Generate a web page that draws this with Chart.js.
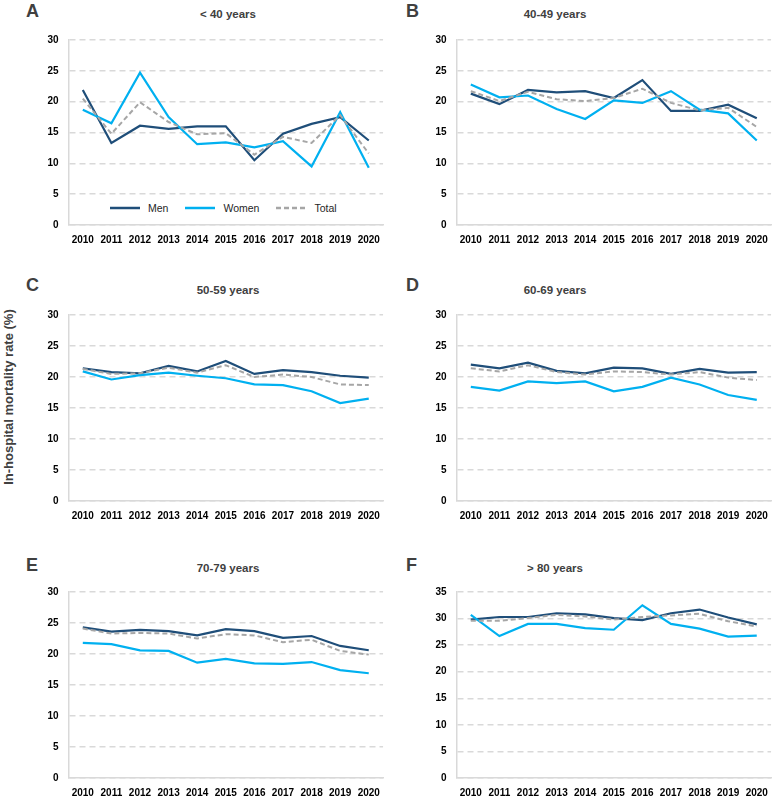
<!DOCTYPE html>
<html>
<head>
<meta charset="utf-8">
<script src="https://cdn.jsdelivr.net/npm/chart.js@4.4.1/dist/chart.umd.min.js"></script>
<style>
html,body{margin:0;padding:0;background:#fff;}
body{width:778px;height:797px;position:relative;overflow:hidden;font-family:"Liberation Sans",Arial,sans-serif;}
canvas{position:absolute;}
.letter{position:absolute;font-weight:bold;font-size:18px;color:#404040;line-height:18px;}
.ptitle{position:absolute;font-weight:bold;font-size:11.5px;color:#404040;transform:translate(-50%,-50%);white-space:nowrap;}
#ytitle{position:absolute;left:8px;top:397px;transform:translate(-50%,-50%) rotate(-90deg);font-weight:bold;font-size:13px;color:#404040;white-space:nowrap;}
#legend{position:absolute;left:110px;top:202px;display:flex;align-items:center;font-size:10.5px;color:#262626;}
#legend .item{display:flex;align-items:center;margin-right:17px;}
#legend svg{margin-right:8px;}
</style>
</head>
<body>
<div id="ytitle">In-hospital mortality rate (%)</div>
<div id="legend"></div>
<script>
// ---- Data ----
const years = ['2010','2011','2012','2013','2014','2015','2016','2017','2018','2019','2020'];
const seriesNames = ['Men','Women','Total'];
const panelLetters = ['A','B','C','D','E','F'];
const panelTitles = ['< 40 years','40-49 years','50-59 years','60-69 years','70-79 years','> 80 years'];
const yMaxes = [30,30,30,30,30,35];
const yStep = 5;

const menA   = [21.9,13.3,16.1,15.6,16.0,16.0,10.5,14.8,16.4,17.5,13.7];
const womenA = [18.7,16.5,24.7,17.5,13.1,13.4,12.6,13.6,9.5,18.3,9.3];
const totalA = [20.5,14.8,19.9,16.7,14.7,14.9,11.4,14.3,13.3,17.8,11.6];

const menB   = [21.3,19.6,21.9,21.5,21.7,20.6,23.5,18.5,18.5,19.5,17.3];
const womenB = [22.8,20.7,21.0,18.8,17.2,20.2,19.8,21.7,18.7,18.1,13.7];
const totalB = [21.7,20.1,21.6,20.4,20.1,20.6,22.1,19.8,18.6,19.0,15.9];

const menC   = [21.4,20.8,20.6,21.8,20.9,22.6,20.5,21.1,20.8,20.2,19.9];
const womenC = [20.9,19.6,20.3,20.7,20.2,19.8,18.8,18.7,17.7,15.8,16.5];
const totalC = [21.3,20.5,20.6,21.5,20.7,21.9,20.0,20.4,20.0,18.8,18.7];

const menD   = [22.0,21.4,22.3,21.0,20.6,21.5,21.4,20.5,21.3,20.7,20.8];
const womenD = [18.4,17.8,19.3,19.0,19.3,17.7,18.4,19.9,18.8,17.1,16.3];
const totalD = [21.4,20.9,21.9,20.8,20.4,20.9,20.8,20.4,20.8,19.9,19.5];

const menE   = [24.3,23.6,23.9,23.7,23.0,24.0,23.7,22.6,22.9,21.3,20.6];
const womenE = [21.8,21.6,20.6,20.5,18.6,19.2,18.5,18.4,18.7,17.4,16.9];
const totalE = [24.1,23.3,23.4,23.3,22.5,23.2,23.0,21.9,22.3,20.5,19.9];

const menF   = [29.8,30.3,30.3,31.0,30.8,30.1,29.7,31.0,31.7,30.2,28.9];
const womenF = [30.7,26.7,29.0,29.0,28.2,27.9,32.5,29.0,28.1,26.6,26.8];
const totalF = [29.6,29.6,30.1,30.7,30.4,29.8,30.3,30.6,30.9,29.5,28.5];

// ---- Styles / layout ----
const COLORS = ['#1f4e79','#00b0f0','#a6a6a6'];
const DASHES = [[],[],[5,3]];
const FONT = "'Liberation Sans', Arial, sans-serif";
const panelData = [[menA,womenA,totalA],[menB,womenB,totalB],[menC,womenC,totalC],[menD,womenD,totalD],[menE,womenE,totalE],[menF,womenF,totalF]];
const colX = [0,388];
const colTitleX = [228,555];
const colLetterX = [26,406];
const rows = [
  {plotTop:35.5, plotBottom:224.3, titleY:14, letterY:2},
  {plotTop:311, plotBottom:501.3, titleY:290, letterY:276},
  {plotTop:588.3, plotBottom:778.3, titleY:568, letterY:556}
];
const PAD_TOP = 12, XAXIS_H = 30, YAXIS_W = 68.5, CW = 389;

panelData.forEach((series, i) => {
  const col = i % 2, row = rows[Math.floor(i/2)];
  // letter
  const L = document.createElement('div');
  L.className = 'letter'; L.textContent = panelLetters[i];
  L.style.left = colLetterX[col] + 'px'; L.style.top = row.letterY + 'px';
  document.body.appendChild(L);
  // title
  const T = document.createElement('div');
  T.className = 'ptitle'; T.textContent = panelTitles[i];
  T.style.left = colTitleX[col] + 'px'; T.style.top = row.titleY + 'px';
  document.body.appendChild(T);
  // canvas
  const cv = document.createElement('canvas');
  const h = Math.round(row.plotBottom - row.plotTop + PAD_TOP + XAXIS_H);
  cv.width = CW; cv.height = h;
  cv.style.width = CW + 'px'; cv.style.height = h + 'px';
  cv.style.left = colX[col] + 'px'; cv.style.top = (row.plotTop - PAD_TOP) + 'px';
  document.body.appendChild(cv);
  new Chart(cv.getContext('2d'), {
    type: 'line',
    data: {
      labels: years,
      datasets: series.map((d, k) => ({
        label: seriesNames[k], data: d,
        borderColor: COLORS[k], backgroundColor: COLORS[k],
        borderWidth: k === 2 ? 2 : 2.2, borderDash: DASHES[k],
        pointRadius: 0, tension: 0, fill: false, order: 2 - k
      }))
    },
    options: {
      responsive: false, animation: false, devicePixelRatio: 1,
      layout: {padding: {top: PAD_TOP, left: 0, right: 2.5, bottom: 0}},
      plugins: {legend: {display: false}, tooltip: {enabled: false}, title: {display: false}},
      scales: {
        x: {
          type: 'category', offset: true,
          grid: {display: false, drawTicks: false},
          border: {display: true, color: '#d9d9d9', width: 1.5},
          ticks: {autoSkip: false, maxRotation: 0, minRotation: 0, padding: 9, color: '#000',
                  font: {family: FONT, size: 10, weight: 'bold'}},
          afterFit: s => { s.height = XAXIS_H; }
        },
        y: {
          min: 0, max: yMaxes[i],
          grid: {color: '#d9d9d9', lineWidth: 1.5, drawTicks: false},
          border: {display: true, color: '#d9d9d9', width: 1.5, dash: [6,4]},
          ticks: {stepSize: yStep, padding: 10, color: '#000',
                  font: {family: FONT, size: 10, weight: 'bold'}},
          afterFit: s => { s.width = YAXIS_W; }
        }
      }
    }
  });
});

// HTML legend for panel A
const lg = document.getElementById('legend');
seriesNames.forEach((name, k) => {
  const it = document.createElement('div'); it.className = 'item';
  const dash = DASHES[k].length ? ` stroke-dasharray="${DASHES[k].join(',')}"` : '';
  it.innerHTML = `<svg width="30" height="6"><line x1="0" y1="3" x2="30" y2="3" stroke="${COLORS[k]}" stroke-width="2.5"${dash}/></svg><span>${name}</span>`;
  lg.appendChild(it);
});
</script>
</body>
</html>
